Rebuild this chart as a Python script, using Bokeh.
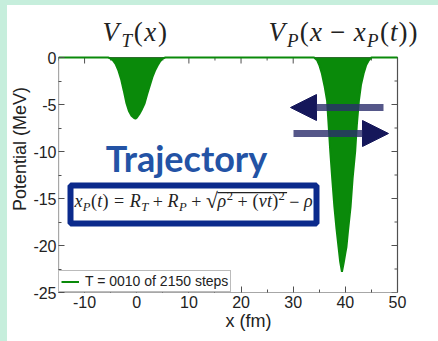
from bokeh.plotting import figure
from bokeh.models import (Label, Arrow, NormalHead, BoxAnnotation, FixedTicker,
                          Legend, LegendItem, CustomJSTickFormatter, Div)
from bokeh.layouts import column, row
from bokeh.embed import file_html
from bokeh.resources import INLINE

# ---------------- data ----------------
x_ticks = [-10, 0, 10, 20, 30, 40, 50]
x_minor = [-15, -5, 5, 15, 25, 35, 45]
y_ticks = [0, -5, -10, -15, -20, -25]
y_minor = [-2.5, -7.5, -12.5, -17.5, -22.5]
X_LO, X_HI = -15, 50
Y_LO, Y_HI = -25, 0

# target potential well V_T(x)
x_target = [-5.5, -5.0, -4.5, -4.0, -3.5, -3.0, -2.5, -2.0, -1.5, -1.0, -0.5, -0.25,
            0.0, 0.5, 1.0, 1.5, 2.0, 2.5, 3.0, 3.5, 4.0, 4.5, 5.0, 5.5]
v_target = [0.0, -0.1, -0.35, -0.75, -1.4, -2.3, -3.5, -4.8, -5.7, -6.2, -6.45, -6.5,
            -6.4, -6.0, -5.5, -4.9, -3.9, -3.0, -2.1, -1.4, -0.85, -0.4, -0.1, 0.0]

# projectile potential well V_P(x - x_P(t))
x_proj = [34.0, 34.6, 35.0, 35.5, 36.0, 36.5, 37.1, 37.5, 37.9, 38.3, 38.7, 39.0, 39.35,
          39.7, 40.0, 40.2, 40.5, 41.0, 41.4, 41.9, 42.2, 42.6, 43.0, 43.5, 44.0, 44.5, 45.0]
v_proj = [0.0, -0.3, -0.8, -1.7, -3.0, -4.6, -9.9, -13.0, -15.9, -18.2, -20.2, -21.7, -22.8,
          -21.8, -20.8, -20.2, -18.5, -15.9, -12.8, -9.9, -7.2, -4.6, -2.9, -1.7, -0.8, -0.3, 0.0]

x_line = [X_LO] + x_target + x_proj + [X_HI]
v_line = [0.0] + v_target + v_proj + [0.0]

legend_text = "T = 0010 of 2150 steps"
x_label = "x (fm)"
y_label = "Potential (MeV)"
title_word = "Trajectory"

GREEN = "#0a8a0a"
NAVY = "#0b2a8c"
ARROW = "#15175a"
MINT = "#c6eedc"
AXC = "#505050"
SANS = "Liberation Sans"
SERIF = "Liberation Serif"

# geometry of the visible axes box (pixels) and the free space above / right of it
BOX_W, BOX_H = 339, 235
EXTRA_TOP, EXTRA_RIGHT = 52, 41
px_x = BOX_W / (X_HI - X_LO)
px_y = BOX_H / (Y_HI - Y_LO)

p = figure(width=431, height=336,
           x_range=(X_LO, X_HI + EXTRA_RIGHT / px_x), y_range=(Y_LO, Y_HI + EXTRA_TOP / px_y),
           output_backend="svg", toolbar_location=None,
           min_border_left=51, min_border_right=0, min_border_top=0, min_border_bottom=49,
           styles={"background-color": "white"})
p.background_fill_color = "white"
p.border_fill_color = "white"
p.outline_line_color = None
p.grid.visible = False

plain = CustomJSTickFormatter(code="return String(tick)")
p.xaxis.ticker = FixedTicker(ticks=x_ticks, minor_ticks=x_minor)
p.yaxis.ticker = FixedTicker(ticks=y_ticks, minor_ticks=y_minor)
p.xaxis.formatter = plain
p.yaxis.formatter = plain
p.xaxis.axis_label = x_label
p.yaxis.axis_label = y_label

for ax in (p.xaxis[0], p.yaxis[0]):
    ax.major_tick_in = 6
    ax.major_tick_out = 0
    ax.minor_tick_in = 3
    ax.minor_tick_out = 0
    ax.axis_line_color = None
    ax.major_tick_line_color = AXC
    ax.minor_tick_line_color = AXC
    ax.major_label_text_font = SANS
    ax.major_label_text_font_size = "16px"
    ax.major_label_text_color = "#222222"
    ax.axis_label_text_font = SANS
    ax.axis_label_text_font_size = "18px"
    ax.axis_label_text_font_style = "normal"
    ax.axis_label_text_color = "#222222"
p.xaxis.major_label_standoff = 3
p.xaxis.axis_label_standoff = 0
p.yaxis.major_label_standoff = 2
p.yaxis.axis_label_standoff = 0

# the axes box
p.quad(left=[X_LO], right=[X_HI], bottom=[Y_LO], top=[Y_HI],
       fill_color=None, line_color=AXC, line_width=1.2)

# tick marks on the top and right edges (pointing inward)
p.segment(x0=x_ticks, y0=[Y_HI] * 7, x1=x_ticks, y1=[Y_HI - 6 / px_y] * 7, line_color=AXC)
p.segment(x0=x_minor, y0=[Y_HI] * 7, x1=x_minor, y1=[Y_HI - 3 / px_y] * 7, line_color=AXC)
p.segment(x0=[X_HI] * 6, y0=y_ticks, x1=[X_HI - 6 / px_x] * 6, y1=y_ticks, line_color=AXC)
p.segment(x0=[X_HI] * 5, y0=y_minor, x1=[X_HI - 3 / px_x] * 5, y1=y_minor, line_color=AXC)

# wells
p.varea(x=x_target, y1=0, y2=v_target, fill_color=GREEN)
p.varea(x=x_proj, y1=0, y2=v_proj, fill_color=GREEN)
ln = p.line(x_line, v_line, line_color=GREEN, line_width=2)

legend = Legend(items=[LegendItem(label=legend_text, renderers=[ln])], location="bottom_left",
                margin=0, padding=2, spacing=0, label_text_font=SANS, label_text_font_size="14px",
                label_text_color="#222222", glyph_width=18, glyph_height=15, label_height=15,
                label_standoff=6, border_line_color="#777777", background_fill_alpha=1.0)
p.add_layout(legend)

# arrows
p.add_layout(Arrow(x_start=325, y_start=185, x_end=232, y_end=185,
                   start_units="screen", end_units="screen",
                   line_width=7, line_color="#2a2d6c", line_alpha=0.8,
                   end=NormalHead(size=26, fill_color=ARROW, line_color=ARROW)))
p.add_layout(Arrow(x_start=235, y_start=159, x_end=330, y_end=159,
                   start_units="screen", end_units="screen",
                   line_width=7, line_color="#2a2d6c", line_alpha=0.8,
                   end=NormalHead(size=26, fill_color=ARROW, line_color=ARROW)))

C = 0.36  # baseline correction (fraction of font size)

# "Trajectory"
p.add_layout(Label(x=128, y=122 + C * 36, x_units="screen", y_units="screen", text=title_word,
                   text_font="Lato", text_font_style="bold", text_font_size="36px",
                   text_color="#2353a5", text_align="center", text_baseline="alphabetic"))

# formula box
p.add_layout(BoxAnnotation(left=12, right=258, top=107, bottom=69,
                           left_units="screen", right_units="screen",
                           top_units="screen", bottom_units="screen",
                           fill_color="white", fill_alpha=1.0,
                           line_color=NAVY, line_width=6, line_alpha=1.0))


def place(segs, x0, y0, f, total_w, color="#222222"):
    raw = sum(a * s for _, a, s, _, _ in segs)
    k = total_w / (raw * f)
    x = x0
    marks = []
    for t, a, s, dy, it in segs:
        if t == "|":
            marks.append(x)
            continue
        if t.strip():
            p.add_layout(Label(x=x, y=y0 + dy * f + C * f * s, x_units="screen", y_units="screen",
                               text=t, text_font=SERIF,
                               text_font_style="italic" if it else "normal",
                               text_font_size=f"{f * s:.1f}px", text_color=color,
                               text_align="left", text_baseline="alphabetic"))
        x += a * s * f * k
    return marks


SUB, SUP = 0.7, 0.7
sp_rel = ("", 0.278, 1, 0, False)
sp_bin = ("", 0.222, 1, 0, False)

formula = [("x", 0.444, 1, 0, True), ("P", 0.611, SUB, -0.2, True), ("(", 0.333, 1, 0, False),
           ("t", 0.278, 1, 0, True), (")", 0.333, 1, 0, False),
           sp_rel, ("=", 0.564, 1, 0, False), sp_rel,
           ("R", 0.611, 1, 0, True), ("T", 0.556, SUB, -0.2, True),
           sp_bin, ("+", 0.564, 1, 0, False), sp_bin,
           ("R", 0.611, 1, 0, True), ("P", 0.611, SUB, -0.2, True),
           sp_bin, ("+", 0.564, 1, 0, False), sp_bin,
           ("\u221a", 0.5, 1.2, -0.08, False), ("|", 0, 1, 0, False),
           ("\u03c1", 0.5, 1, 0, True), ("2", 0.5, SUP, 0.4, False),
           sp_bin, ("+", 0.564, 1, 0, False), sp_bin,
           ("(", 0.333, 1, 0, False), ("v", 0.444, 1, 0, True), ("t", 0.278, 1, 0, True),
           (")", 0.333, 1, 0, False), ("2", 0.5, SUP, 0.4, False), ("|", 0, 1, 0, False),
           sp_bin, ("\u2212", 0.564, 1, 0, False), sp_bin, ("\u03c1", 0.5, 1, 0, True)]
F0, FY = 16, 85
m = place(formula, F0, FY, 18, 239)
p.add_layout(BoxAnnotation(left=m[0], right=m[1] + 2, top=FY + 15.5, bottom=FY + 14.3,
                           left_units="screen", right_units="screen",
                           top_units="screen", bottom_units="screen",
                           fill_color="#222222", fill_alpha=1.0, line_color=None))

# titles of the two wells above the axes box
title_t = [("V", 0.611, 1, 0, True), ("T", 0.556, SUB, -0.2, True), ("(", 0.333, 1, 0, False),
           ("x", 0.444, 1, 0, True), (")", 0.333, 1, 0, False)]
title_p = [("V", 0.611, 1, 0, True), ("P", 0.611, SUB, -0.2, True), ("(", 0.333, 1, 0, False),
           ("x", 0.444, 1, 0, True), sp_bin, ("\u2212", 0.564, 1, 0, False), sp_bin,
           ("x", 0.444, 1, 0, True), ("P", 0.611, SUB, -0.2, True), ("(", 0.333, 1, 0, False),
           ("t", 0.278, 1, 0, True), (")", 0.333, 1, 0, False), (")", 0.333, 1, 0, False)]
TY = BOX_H + 16
place(title_t, 44, TY, 27, 66)
place(title_p, 210, TY, 27, 150)

# light mint strips along the top and left edges of the picture
top_strip = Div(text="", width=431, height=5, margin=0, styles={"background-color": MINT})
left_strip = Div(text="", width=7, height=341, margin=0, styles={"background-color": MINT})
right_part = column(top_strip, p, spacing=0, styles={"background-color": "white"})
layout = row(left_strip, right_part, spacing=0, styles={"background-color": "white"})
open("out.html", "w").write(file_html(layout, INLINE))
